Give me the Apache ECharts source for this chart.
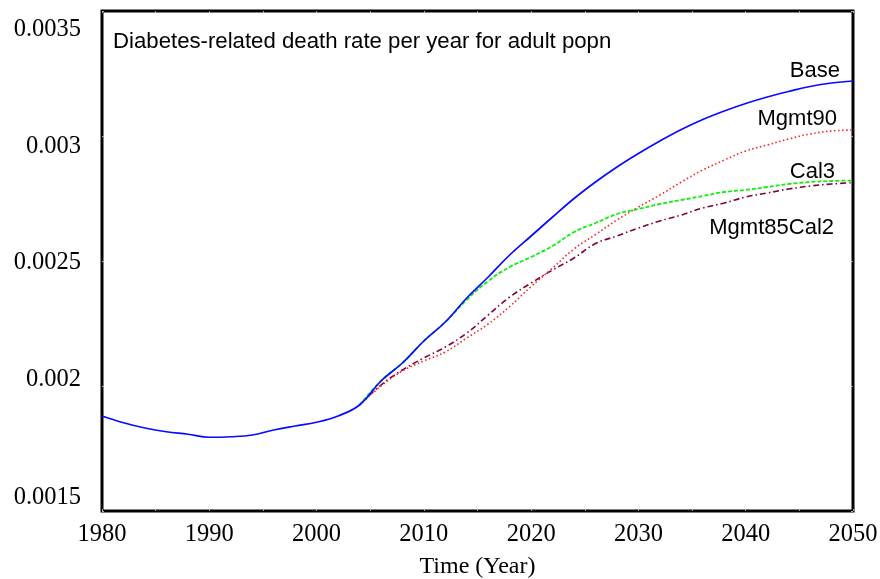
<!DOCTYPE html>
<html>
<head>
<meta charset="utf-8">
<script src="https://cdn.jsdelivr.net/npm/echarts@6/dist/echarts.min.js"></script>
<style>html,body{margin:0;padding:0;background:#fff}#c{width:880px;height:579px}</style>
</head>
<body>
<div id="c"></div>
<script>
const title = 'Diabetes-related death rate per year for adult popn';
const xAxisName = 'Time (Year)';
const years = [1980,1982,1984,1986,1988,1990,1992,1994,1996,1998,2000,2002,2004,2006,2008,2010,2012,2014,2016,2018,2020,2022,2024,2026,2028,2030,2032,2034,2036,2038,2040,2042,2044,2046,2048,2050];
const baseValues = [0.00188,0.001853,0.001832,0.001817,0.001807,0.001795,0.001797,0.001804,0.001824,0.00184,0.001855,0.00188,0.001924,0.00202,0.002092,0.00218,0.002256,0.002352,0.002436,0.002524,0.0026,0.002676,0.00275,0.002816,0.002876,0.00293,0.00298,0.003026,0.003066,0.0031,0.00313,0.003156,0.003178,0.003198,0.003212,0.00322];
const policyYears = [2004,2006,2008,2010,2012,2014,2016,2018,2020,2022,2024,2026,2028,2030,2032,2034,2036,2038,2040,2042,2044,2046,2048,2050];
const mgmt90Values = [0.001924,0.002,0.00206,0.0021,0.002136,0.002192,0.002248,0.002318,0.002398,0.002472,0.002548,0.002606,0.002664,0.002716,0.002764,0.002816,0.002864,0.002904,0.00294,0.002964,0.002988,0.003008,0.00302,0.003024];
const cal3Values = [0.001924,0.00202,0.002092,0.00218,0.002256,0.002345,0.00242,0.002476,0.002516,0.00256,0.002616,0.002652,0.002688,0.002708,0.002728,0.002744,0.00276,0.002776,0.002784,0.002796,0.002808,0.002816,0.00282,0.002822];
const mgmt85Cal2Values = [0.001924,0.002004,0.002064,0.002112,0.002156,0.002212,0.002284,0.002356,0.002412,0.002464,0.002512,0.00257,0.0026,0.002632,0.00266,0.002684,0.002712,0.002732,0.002756,0.002772,0.002788,0.0028,0.002808,0.002814];
const yTickLabels = ['0.0015','0.002','0.0025','0.003','0.0035'];

const pair = (xs, vs) => xs.map((x, i) => [x, vs[i]]);
// label vertical shifts (style)
const yLabelShift = [-13, -6, 2, 11, 19];
const serif = 'Liberation Serif, Times New Roman, serif';
const sans = 'Liberation Sans, Arial, sans-serif';
const rich = {};
yLabelShift.forEach((d, i) => {
  rich['o' + i] = {
    fontFamily: serif, fontSize: 24.5, color: '#000',
    padding: d >= 0 ? [2 * d, 0, 0, 0] : [0, 0, -2 * d, 0]
  };
});
const endLbl = (dx, dy) => ({
  show: true, formatter: '{a}', align: 'right', verticalAlign: 'middle',
  offset: [dx, dy], fontFamily: sans, fontSize: 22, color: '#000'
});

const chart = echarts.init(document.getElementById('c'), null, {renderer: 'canvas'});
chart.setOption({
  animation: false,
  backgroundColor: '#fff',
  title: {
    text: title, left: 113, top: 31, padding: 0,
    textStyle: {fontFamily: sans, fontSize: 22.2, fontWeight: 'normal', color: '#000'}
  },
  grid: {left: 102, right: 27, top: 11, bottom: 68, outerBoundsMode: 'none', containLabel: false,
    show: true, borderColor: '#000', borderWidth: 3, backgroundColor: 'transparent'},
  xAxis: [{
    type: 'value', min: 1980, max: 2050, interval: 5,
    name: xAxisName, nameLocation: 'middle', nameGap: 44,
    nameTextStyle: {fontFamily: serif, fontSize: 24, color: '#000'},
    axisLine: {show: false},
    axisTick: {show: true, inside: true, length: 2, lineStyle: {color: '#aaa', width: 1}},
    splitLine: {show: false},
    axisLabel: {
      margin: 11, fontFamily: serif, fontSize: 24.5, color: '#000',
      formatter: v => (v % 10 === 0 ? String(v) : '')
    }
  }, {
    type: 'value', position: 'top', min: 1980, max: 2050, interval: 5,
    axisLine: {show: false}, axisLabel: {show: false}, splitLine: {show: false},
    axisTick: {show: true, inside: true, length: 2, lineStyle: {color: '#aaa', width: 1}}
  }],
  yAxis: [{
    type: 'value', min: 0.0015, max: 0.0035, interval: 0.0005,
    axisLine: {show: false},
    axisTick: {show: true, inside: true, length: 2, lineStyle: {color: '#aaa', width: 1}},
    splitLine: {show: false},
    axisLabel: {
      margin: 21, rich: rich,
      formatter: v => {
        const i = Math.round((v - 0.0015) / 0.0005);
        return '{o' + i + '|' + yTickLabels[i] + '}';
      }
    }
  }, {
    type: 'value', position: 'right', min: 0.0015, max: 0.0035, interval: 0.0005,
    axisLine: {show: false}, axisLabel: {show: false}, splitLine: {show: false},
    axisTick: {show: true, inside: true, length: 2, lineStyle: {color: '#aaa', width: 1}}
  }],
  series: [
    {name: 'Mgmt85Cal2', type: 'line', data: pair(policyYears, mgmt85Cal2Values), smooth: 0.4, showSymbol: false,
      lineStyle: {color: '#800040', width: 1.6, type: [6, 3, 1.5, 3]}, endLabel: endLbl(-27, 45)},
    {name: 'Mgmt90', type: 'line', data: pair(policyYears, mgmt90Values), smooth: 0.4, showSymbol: false,
      lineStyle: {color: '#ff2020', width: 1.6, type: [1.5, 2.5]}, endLabel: endLbl(-24, -11)},
    {name: 'Cal3', type: 'line', data: pair(policyYears, cal3Values), smooth: 0.4, showSymbol: false,
      lineStyle: {color: '#10ee10', width: 1.8, type: [4, 2]}, endLabel: endLbl(-26, -9)},
    {name: 'Base', type: 'line', data: pair(years, baseValues), smooth: 0.4, showSymbol: false,
      lineStyle: {color: '#0a0aff', width: 1.7, type: 'solid'}, endLabel: endLbl(-21, -10)}
  ]
});
</script>
</body>
</html>
